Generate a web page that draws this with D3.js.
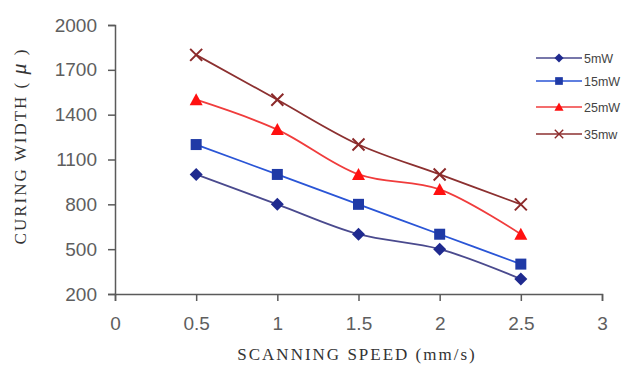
<!DOCTYPE html>
<html>
<head>
<meta charset="utf-8">
<script src="https://cdn.jsdelivr.net/npm/d3@7"></script>
<style>
  body { margin: 0; background: #fff; }
  svg { display: block; }
  .tick text { font-family: "Liberation Sans", Arial, sans-serif; font-size: 19px; fill: #5e5e5e; }
  .axis path, .axis line { stroke: #5a5a5a; stroke-width: 1.5; }
  .title { font-family: "Liberation Serif", "Times New Roman", serif; font-size: 17px; fill: #333; letter-spacing: 2px; }
  .legend text { font-family: "Liberation Sans Narrow", "Liberation Sans", Arial, sans-serif; font-size: 12.5px; fill: #444; }
</style>
</head>
<body>
<svg></svg>
<script>
// chart data
const speeds = [0.5, 1, 1.5, 2, 2.5];
const seriesNames = ["5mW", "15mW", "25mW", "35mw"];
const w5 = [1000, 800, 600, 500, 300];
const w15 = [1200, 1000, 800, 600, 400];
const w25 = [1500, 1300, 1000, 900, 600];
const w35 = [1800, 1500, 1200, 1000, 800];
const xTicks = [0, 0.5, 1, 1.5, 2, 2.5, 3];
const yTicks = [200, 500, 800, 1100, 1400, 1700, 2000];

const lineColors = ["#4a4a8e", "#2a55d6", "#f03c3c", "#8c3030"];
const markColors = ["#1f2a8f", "#1f3aa6", "#ff1010", "#8c2a2a"];
const shapes = ["diamond", "square", "triangle", "cross"];

const width = 622, height = 365;
const svg = d3.select("svg").attr("width", width).attr("height", height);

// Set the ranges
const x = d3.scaleLinear().domain([0, 3]).range([115, 602]);
const y = d3.scaleLinear().domain([200, 2000]).range([294, 25]);

// axes
svg.append("g")
    .attr("class", "axis")
    .attr("transform", "translate(0," + y(200) + ")")
    .call(d3.axisBottom(x).tickValues(xTicks).tickSize(7).tickPadding(16).tickFormat(d => d));

svg.append("g")
    .attr("class", "axis")
    .attr("transform", "translate(" + x(0) + ",0)")
    .call(d3.axisLeft(y).tickValues(yTicks).tickSize(7).tickPadding(11).tickFormat(d => d));

// axis labels
svg.append("text")
    .attr("class", "title")
    .attr("x", 357)
    .attr("y", 360)
    .attr("text-anchor", "middle")
    .text("SCANNING SPEED (mm/s)");

const yl = svg.append("text")
    .attr("class", "title")
    .attr("transform", "translate(26,146) rotate(-90)")
    .attr("text-anchor", "middle");
yl.append("tspan").text("CURING WIDTH ( ");
yl.append("tspan").attr("font-style", "italic").attr("font-size", 22).text("μ");
yl.append("tspan").text(" )");

// Define the line
const valueline = d3.line()
    .curve(d3.curveCatmullRom.alpha(0.5))
    .x(d => x(d[0]))
    .y(d => y(d[1]));

const allSeries = [w5, w15, w25, w35];

function drawMarker(g, shape, color, cx, cy) {
    if (shape === "diamond") {
        g.append("path").attr("d", `M${cx},${cy - 6.5}L${cx + 6.5},${cy}L${cx},${cy + 6.5}L${cx - 6.5},${cy}Z`).attr("fill", color);
    } else if (shape === "square") {
        g.append("rect").attr("x", cx - 5.5).attr("y", cy - 5.5).attr("width", 11).attr("height", 11).attr("fill", color);
    } else if (shape === "triangle") {
        g.append("path").attr("d", `M${cx},${cy - 6.5}L${cx + 6.5},${cy + 5.5}L${cx - 6.5},${cy + 5.5}Z`).attr("fill", color);
    } else {
        g.append("path").attr("d", `M${cx - 6},${cy - 6}L${cx + 6},${cy + 6}M${cx - 6},${cy + 6}L${cx + 6},${cy - 6}`)
            .attr("stroke", color).attr("stroke-width", 2).attr("fill", "none");
    }
}

allSeries.forEach((vals, i) => {
    const pts = speeds.map((s, j) => [s, vals[j]]);
    svg.append("path")
        .datum(pts)
        .attr("d", valueline)
        .attr("fill", "none")
        .attr("stroke", lineColors[i])
        .attr("stroke-width", 1.8);
    const g = svg.append("g");
    pts.forEach(p => drawMarker(g, shapes[i], markColors[i], x(p[0]), y(p[1])));
});

// legend
const legendY = [58, 81, 107, 134];
const legend = svg.append("g").attr("class", "legend");
seriesNames.forEach((name, i) => {
    legend.append("line")
        .attr("x1", 536).attr("x2", 582)
        .attr("y1", legendY[i]).attr("y2", legendY[i])
        .attr("stroke", lineColors[i]).attr("stroke-width", 1.5);
    const g = legend.append("g").attr("transform", `translate(559,${legendY[i]}) scale(0.7) translate(-559,${-legendY[i]})`);
    drawMarker(g, shapes[i], markColors[i], 559, legendY[i]);
    legend.append("text")
        .attr("x", 584).attr("y", legendY[i] + 4.5)
        .text(name);
});
</script>
</body>
</html>
